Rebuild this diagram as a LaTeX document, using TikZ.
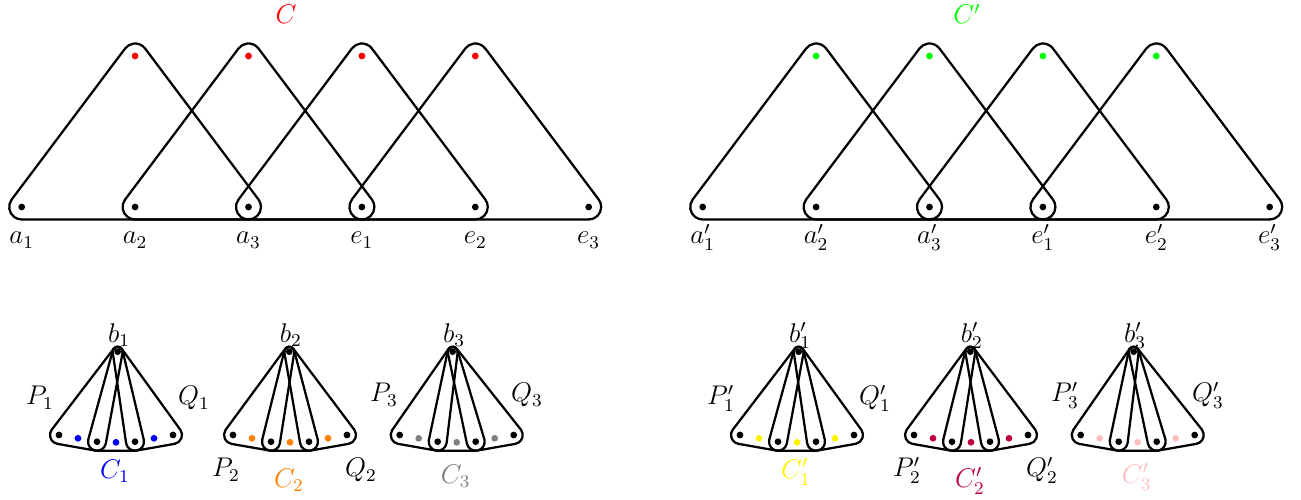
\documentclass[tikz,border=0pt]{standalone}
\usetikzlibrary{calc}
\tikzset{
x=0.444pt, y=0.444pt,
vx/.style={circle,inner sep=0pt,minimum size=3pt},
hyp/.style={line width=1pt,line cap=round,line join=round},
lbl/.style={anchor=base,inner sep=0pt,font=\large},
}
% a dot, and the radius of the hull round it
\newcommand\vtx[5]{%
\node[vx,fill=#4] (#1) at (#2,#3) {};
\expandafter\xdef\csname dr@#1\endcsname{#5}}
% arc round #2, then the side from #2 to #3
\newcommand\hc[3]{%
\edef\hra{\csname dr@#2\endcsname}\edef\hrb{\csname dr@#3\endcsname}%
\draw[hyp] let \p1=($(#2)-(#1)$), \p2=($(#3)-(#2)$),
\n1={atan2(\y1,\x1)-90}, \n2={atan2(\y2,\x2)-90},
\n3={mod(\n2-\n1+720,360)} in
($(#2)+(\n1:\hra)$) arc[start angle=\n1,delta angle=\n3,radius=\hra]
-- ($(#3)+(\n2:\hrb)$);}
\newcommand\hpair[2]{\hc{#2}{#1}{#2}\hc{#1}{#2}{#1}}
\newcommand\htri[3]{\hc{#3}{#1}{#2}\hc{#1}{#2}{#3}\hc{#2}{#3}{#1}}
\newcommand\hfan[5]{\hc{#5}{#1}{#2}\hc{#1}{#2}{#3}\hc{#2}{#3}{#4}\hc{#3}{#4}{#5}\hc{#4}{#5}{#1}}

\begin{document}
\begin{tikzpicture}
\useasboundingbox (0,0) rectangle (1301,499);

\foreach \s/\dx/\pr/\cT/\cA/\cB/\cC in
{l/0//red/blue/orange/gray, r/681/'/green/yellow/purple/pink}{
\begin{scope}[shift={(\dx,0)}]
% top row
\foreach \v/\x/\l/\k in {a1/21.7/a/1, a2/135.1/a/2, a3/248.5/a/3,
e1/361.9/e/1, e2/475.3/e/2, e3/588.7/e/3}{
\vtx{\v\s}{\x}{292}{black}{12.5}
\node[lbl] (l\v\s) at (\x,255) {$\l\pr_\k$};
}
\foreach \i/\x in {1/135.1, 2/248.5, 3/361.9, 4/475.3}
\vtx{t\i\s}{\x}{443}{\cT}{12.5};
\htri{a1\s}{a3\s}{t1\s}
\htri{a2\s}{e1\s}{t2\s}
\htri{a3\s}{e2\s}{t3\s}
\htri{e1\s}{e3\s}{t4\s}
\node[lbl,text=\cT] (lC\s) at (286,475) {$C\pr$};

% the three fans
\foreach \i/\cx/\bx/\cc/\px/\py/\qx/\qy/\cy in
{1/116/117.7/\cA/40/94/194/94/20.5,
2/290/289.3/\cB/226/22/361/22/11.5,
3/456.7/452.7/\cC/384/97/527/97/15.5}{
\vtx{b\i\s}{\bx}{147.3}{black}{5}
\vtx{k1\i\s}{\cx-57}{64}{black}{9}
\vtx{d1\i\s}{\cx-38}{60.7}{\cc}{9}
\vtx{k2\i\s}{\cx-19}{57.3}{black}{9}
\vtx{d2\i\s}{\cx}{56.7}{\cc}{9}
\vtx{k3\i\s}{\cx+19}{57.3}{black}{9}
\vtx{d3\i\s}{\cx+38}{60.7}{\cc}{9}
\vtx{k4\i\s}{\cx+57}{64}{black}{9}
\hfan{b\i\s}{k1\i\s}{k2\i\s}{k3\i\s}{k4\i\s}
\hpair{b\i\s}{k2\i\s}
\hpair{b\i\s}{k3\i\s}
\node[lbl] (lb\i\s) at (\bx+1.5,157) {$b\pr_\i$};
\node[lbl] (lp\i\s) at (\px,\py) {$P\pr_\i$};
\node[lbl] (lq\i\s) at (\qx,\qy) {$Q\pr_\i$};
\node[lbl,text=\cc] (lc\i\s) at (\cx-1,\cy) {$C\pr_\i$};
}
\end{scope}
}
\end{tikzpicture}
\end{document}
